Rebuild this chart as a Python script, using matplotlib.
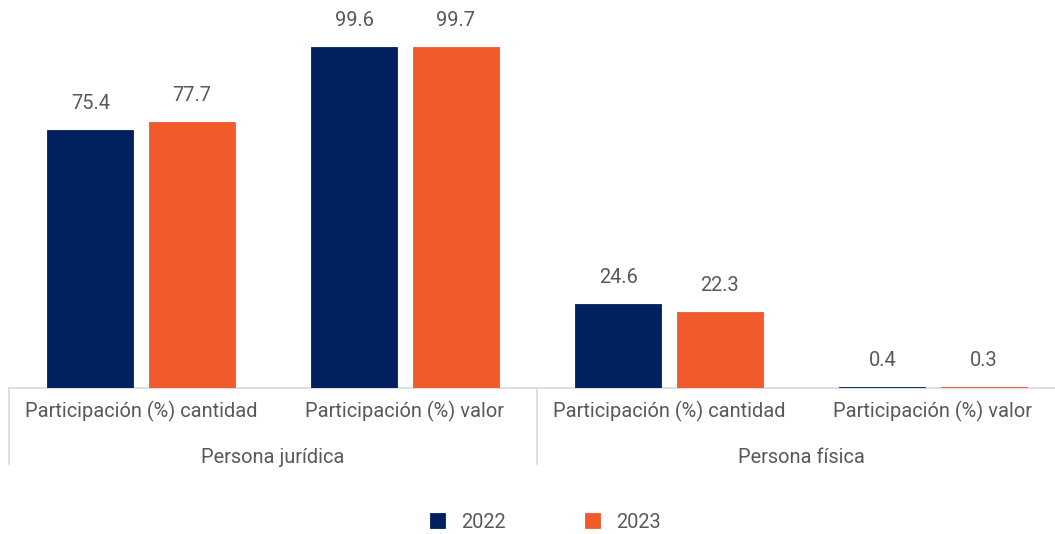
import numpy as np
import matplotlib.pyplot as plt

plt.rcParams['font.family'] = ['Roboto', 'DejaVu Sans']

groups = ['Persona jurídica', 'Persona física']
categories = ['Participación (%) cantidad', 'Participación (%) valor',
              'Participación (%) cantidad', 'Participación (%) valor']
years = ['2022', '2023']
v2022 = [75.4, 99.6, 24.6, 0.4]
v2023 = [77.7, 99.7, 22.3, 0.3]

colors = ['#002060', '#F15A2B']
text_col = '#595959'
line_col = '#D9D9D9'
fs = 14.4

fig = plt.figure(figsize=(10.55, 5.34), dpi=100)
# axes slightly wider than the figure, like the cropped original
ax = fig.add_axes([9 / 1055, (534 - 388) / 534, 1056 / 1055, 388 / 534])

x = np.arange(len(categories))
w = 0.327
off = 0.192
b1 = ax.bar(x - off, v2022, w, color=colors[0], label=years[0], zorder=3,
            edgecolor=colors[0], linewidth=0.6)
b2 = ax.bar(x + off, v2023, w, color=colors[1], label=years[1], zorder=3,
            edgecolor=colors[1], linewidth=0.6)

for bars, vals in ((b1, v2022), (b2, v2023)):
    for r, v in zip(bars, vals):
        ax.annotate(f'{v:.1f}', (r.get_x() + r.get_width() / 2, v),
                    xytext=(0, 19), textcoords='offset points',
                    ha='center', va='center', fontsize=fs,
                    color=text_col)

ax.set_xlim(-0.5, len(categories) - 0.5)
ax.set_ylim(0, 113.4)
for s in ['top', 'right', 'left']:
    ax.spines[s].set_visible(False)
ax.spines['bottom'].set_color(line_col)
ax.spines['bottom'].set_linewidth(1.2)
ax.set_yticks([])
ax.set_xticks(x)
ax.set_xticklabels(categories, fontsize=fs, color=text_col)
ax.tick_params(axis='x', length=0, pad=9)

# hierarchical group labels and separators
trans = ax.get_xaxis_transform()
for gx in [-0.5, 1.5, 3.5]:
    ax.plot([gx, gx], [0, -0.195], transform=trans, color=line_col,
            lw=1.2, clip_on=False)
for i, g in enumerate(groups):
    ax.text(2 * i + 0.5, -0.178, g, transform=trans, ha='center', va='center',
            fontsize=fs, color=text_col)

leg = fig.legend(loc='center', bbox_to_anchor=(0.517, 0.022), ncol=2,
                 frameon=False, fontsize=fs, handlelength=0.75,
                 handleheight=0.75, columnspacing=4.0, handletextpad=0.8)
for t in leg.get_texts():
    t.set_color(text_col)

fig.savefig('out.png', dpi=100)
